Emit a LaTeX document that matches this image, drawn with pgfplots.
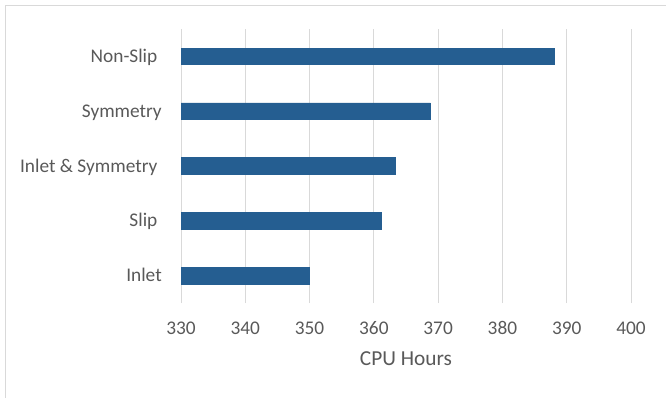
\documentclass[border=0pt]{standalone}
\usepackage{pgfplots}
\pgfplotsset{compat=1.18}
\usepackage{fontspec}
\setmainfont{Carlito}
\definecolor{barblue}{HTML}{255E91}
\definecolor{gridgray}{HTML}{D9D9D9}
\definecolor{textgray}{HTML}{595959}
\begin{document}
\begin{tikzpicture}
% canvas: 666 x 398 units of 0.75pt
\useasboundingbox (0,0) rectangle (666*0.75pt,-398*0.75pt);
% chart-area frame (left and top edges)
\draw[gridgray, line width=0.75pt] (5.5*0.75pt,-398*0.75pt) -- (5.5*0.75pt,-6*0.75pt) -- (666*0.75pt,-6*0.75pt);
\begin{axis}[
  at={(181*0.75pt,-303*0.75pt)}, anchor=south west,
  scale only axis,
  width=337.5pt, height=205.5pt,
  xbar, bar width=12.5pt,
  xmin=330, xmax=400,
  ymin=-0.5, ymax=4.5,
  xtick={330,340,...,400},
  ytick={0,1,2,3,4},
  yticklabels={Inlet, Slip\kern0.226em, Inlet \& Symmetry\kern0.226em, Symmetry, Non-Slip\kern0.226em},
  xmajorgrids,
  grid style={gridgray, line width=0.75pt},
  axis line style={draw=none},
  major tick length=0pt,
  tick style={draw=none},
  /pgf/number format/assume math mode=true,
  tick label style={font=\fontsize{14.5}{16}\selectfont, text=textgray},
  xticklabel style={inner sep=0pt, anchor=base, yshift=-23.25pt},
  yticklabel style={inner sep=0pt, anchor=base east, xshift=-14.25pt, yshift=-4.6pt},
  xlabel={CPU Hours},
  xlabel style={at={(axis description cs:0.5,0)}, anchor=base, inner sep=0pt, yshift=-46.5pt, font=\fontsize{16}{18}\selectfont, text=textgray},
]
\addplot[fill=barblue, draw=barblue] coordinates {
  (350.0,0)
  (361.2,1)
  (363.4,2)
  (368.8,3)
  (388.1,4)
};
\end{axis}
\end{tikzpicture}
\end{document}
